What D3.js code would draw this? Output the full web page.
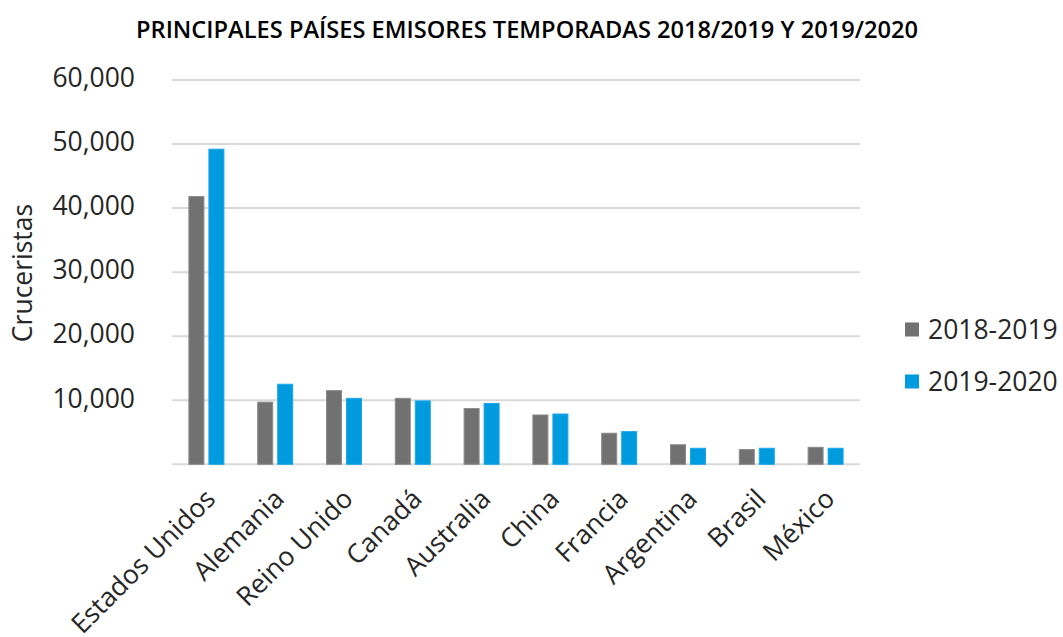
<!DOCTYPE html>
<html><head><meta charset="utf-8">
<script src="https://cdn.jsdelivr.net/npm/d3@7"></script>
<style>body{margin:0;background:#fff;} text{font-family:"Open Sans",sans-serif;}</style>
</head><body><svg id="c" width="1063" height="637"></svg>
<script>
const categories = ["Estados Unidos","Alemania","Reino Unido","Canadá","Australia","China","Francia","Argentina","Brasil","México"];
const series2018 = [41800, 9700, 11500, 10300, 8700, 7700, 4850, 3050, 2300, 2650];
const series2019 = [49200, 12500, 10300, 9900, 9500, 7850, 5100, 2500, 2500, 2500];
const seriesNames = ["2018-2019", "2019-2020"];
const yTicks = [0, 10000, 20000, 30000, 40000, 50000, 60000];
const title = "PRINCIPALES PAÍSES EMISORES TEMPORADAS 2018/2019 Y 2019/2020";
const yTitle = "Cruceristas";
const colors = ["#717171", "#009ADE"];

(function(){
const svg = d3.select("#c");
const pL = 172, pR = 860, pT = 80, pB = 464.3;
const x = d3.scaleBand().domain(categories).range([pL, pR]).paddingInner(0).paddingOuter(0);
const y = d3.scaleLinear().domain([0, 60000]).range([pB, pT]);
const txt = "#262626";

svg.append("g").selectAll("line").data(yTicks).join("line")
  .attr("x1", pL).attr("x2", pR)
  .attr("y1", d => y(d)).attr("y2", d => y(d))
  .attr("stroke", "#d9d9d9").attr("stroke-width", 2);

const fmt = d3.format(",");
svg.append("g").selectAll("text").data(yTicks.filter(d => d > 0)).join("text")
  .attr("x", 135).attr("y", d => y(d) - 2).attr("dy", "0.35em")
  .attr("text-anchor", "end").attr("font-size", 26.5).attr("fill", txt)
  .text(d => fmt(d));

const bw = 15, gap = 5;
const data = [series2018, series2019];
data.forEach((s, si) => {
  svg.append("g").selectAll("rect").data(s).join("rect")
    .attr("x", (d, i) => x(categories[i]) + x.bandwidth()/2 - bw - gap/2 + si*(bw+gap))
    .attr("y", d => y(d))
    .attr("width", bw)
    .attr("height", d => y(0) - y(d))
    .attr("fill", colors[si])
    .attr("stroke", si === 0 ? "#8a8a8a" : "#1aa8e8").attr("stroke-width", 1);
});

svg.append("g").selectAll("text").data(categories).join("text")
  .attr("transform", d => `translate(${x(d) + x.bandwidth()/2 + 4},${494}) rotate(-45)`)
  .attr("text-anchor", "end").attr("font-size", 26.5).attr("fill", txt)
  .attr("dy", "0.35em")
  .text(d => d);

svg.append("text").attr("transform", "translate(32,273) rotate(-90)")
  .attr("text-anchor", "middle").attr("font-size", 26.5).attr("fill", txt)
  .text(yTitle);

svg.append("text").attr("x", 136).attr("y", 38)
  .attr("font-size", 23).attr("font-weight", 600).attr("fill", "#000")
  .attr("textLength", 782).attr("lengthAdjust", "spacingAndGlyphs")
  .text(title);

seriesNames.forEach((n, i) => {
  const ly = 329.5 + i * 52;
  svg.append("rect").attr("x", 905).attr("y", ly - 7).attr("width", 14).attr("height", 14).attr("fill", colors[i]);
  svg.append("text").attr("x", 928).attr("y", ly).attr("dy", "0.35em")
    .attr("font-size", 26.5).attr("fill", txt).text(n);
});
})();
</script></body></html>
